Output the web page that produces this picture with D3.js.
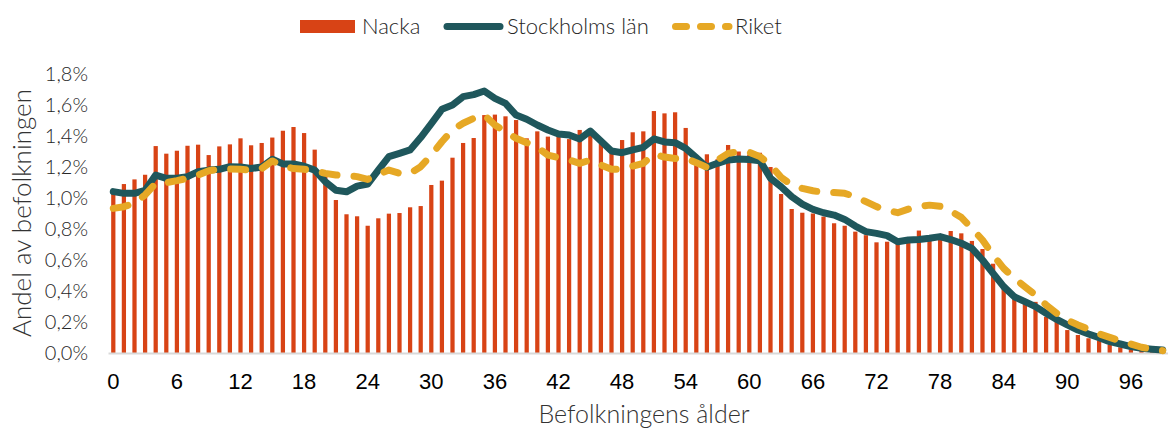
<!DOCTYPE html>
<html>
<head>
<meta charset="utf-8">
<script src="https://cdn.jsdelivr.net/npm/d3@7"></script>
<style>
  html, body { margin: 0; padding: 0; background: #fff; }
  svg { display: block; }
  .thin { font-family: Lato, "Open Sans", sans-serif; font-weight: 300; }
</style>
</head>
<body>
<svg id="chart" width="1168" height="430"></svg>
<script>
const ages = d3.range(0, 100);
const xTickLabels = [0, 6, 12, 18, 24, 30, 36, 42, 48, 54, 60, 66, 72, 78, 84, 90, 96];
const yTickValues = [0, 0.2, 0.4, 0.6, 0.8, 1.0, 1.2, 1.4, 1.6, 1.8];

const nacka = [
  1.04, 1.09, 1.12, 1.15, 1.335, 1.286, 1.305, 1.337, 1.344, 1.277,
  1.333, 1.346, 1.385, 1.34, 1.355, 1.39, 1.434, 1.458, 1.419, 1.312,
  1.15, 0.987, 0.895, 0.882, 0.821, 0.869, 0.899, 0.903, 0.94, 0.948,
  1.084, 1.112, 1.26, 1.355, 1.387, 1.535, 1.538, 1.527, 1.503, 1.385,
  1.43, 1.396, 1.40, 1.38, 1.439, 1.445, 1.35, 1.30, 1.374, 1.424,
  1.43, 1.561, 1.546, 1.553, 1.452, 1.25, 1.282, 1.25, 1.342, 1.30,
  1.28, 1.292, 1.20, 1.026, 0.929, 0.905, 0.90, 0.88, 0.837, 0.821,
  0.783, 0.76, 0.714, 0.718, 0.71, 0.73, 0.79, 0.76, 0.76, 0.787,
  0.772, 0.723, 0.671, 0.576, 0.44, 0.37, 0.32, 0.33, 0.234, 0.202,
  0.148, 0.116, 0.095, 0.08, 0.052, 0.037, 0.024, 0.015, 0.01, 0.005
];
const stockholm = [
  1.041, 1.03, 1.03, 1.05, 1.148, 1.127, 1.127, 1.138, 1.17, 1.18,
  1.185, 1.202, 1.2, 1.19, 1.2, 1.25, 1.22, 1.22, 1.205, 1.18,
  1.105, 1.05, 1.04, 1.077, 1.09, 1.18, 1.267, 1.288, 1.31, 1.39,
  1.48, 1.572, 1.6, 1.654, 1.667, 1.69, 1.643, 1.61, 1.535, 1.508,
  1.471, 1.439, 1.413, 1.406, 1.381, 1.432, 1.368, 1.303, 1.292, 1.31,
  1.327, 1.381, 1.362, 1.357, 1.32, 1.26, 1.198, 1.224, 1.245, 1.252,
  1.248, 1.241, 1.127, 1.073, 1.009, 0.961, 0.927, 0.905, 0.89, 0.862,
  0.819, 0.783, 0.772, 0.757, 0.718, 0.729, 0.732, 0.74, 0.751, 0.732,
  0.708, 0.675, 0.6, 0.514, 0.428, 0.363, 0.331, 0.299, 0.256, 0.217,
  0.181, 0.148, 0.123, 0.099, 0.073, 0.058, 0.041, 0.03, 0.024, 0.019
];
const riket = [
  0.933, 0.944, 0.965, 1.02, 1.095, 1.099, 1.112, 1.127, 1.148, 1.176,
  1.185, 1.187, 1.185, 1.18, 1.19, 1.239, 1.206, 1.19, 1.185, 1.176,
  1.159, 1.148, 1.145, 1.138, 1.12, 1.153, 1.18, 1.159, 1.159, 1.202,
  1.277, 1.363, 1.439, 1.482, 1.514, 1.535, 1.471, 1.428, 1.385, 1.357,
  1.327, 1.277, 1.26, 1.245, 1.224, 1.245, 1.213, 1.185, 1.185, 1.206,
  1.224, 1.282, 1.264, 1.255, 1.256, 1.228, 1.198, 1.245, 1.288, 1.299,
  1.295, 1.267, 1.213, 1.133, 1.084, 1.062, 1.047, 1.036, 1.036, 1.03,
  1.009, 0.976, 0.944, 0.923, 0.905, 0.928, 0.946, 0.954, 0.946, 0.915,
  0.875, 0.804, 0.729, 0.632, 0.546, 0.482, 0.428, 0.374, 0.31, 0.256,
  0.213, 0.181, 0.153, 0.123, 0.101, 0.077, 0.058, 0.037, 0.024, 0.015
];
const seriesNames = ["Nacka", "Stockholms län", "Riket"];
const colors = { nacka: "#d84315", stockholm: "#1f575c", riket: "#e6a825" };

const svg = d3.select("#chart");
const margin = { left: 108, right: 0, top: 74, bottom: 77 };
const W = 1168, H = 430;

const x = d3.scaleBand()
  .domain(ages)
  .range([margin.left, W - margin.right])
  .paddingInner(0.6)
  .paddingOuter(0.3);
const y = d3.scaleLinear().domain([0, 1.8]).range([H - margin.bottom, margin.top]);
const cx = a => x(a) + x.bandwidth() / 2;

// Bars
svg.append("g").selectAll("rect")
  .data(ages)
  .join("rect")
  .attr("x", a => x(a))
  .attr("width", x.bandwidth())
  .attr("y", a => y(nacka[a]))
  .attr("height", a => y(0) - y(nacka[a]))
  .attr("fill", colors.nacka);

// X axis
const xAxis = svg.append("g")
  .attr("transform", `translate(0,${y(0)})`)
  .call(d3.axisBottom(x).tickValues(xTickLabels).tickSize(0).tickPadding(20));
xAxis.select(".domain").attr("stroke", "#d9d9d9").attr("stroke-width", 2);
xAxis.selectAll("text")
  .attr("font-family", "Liberation Sans, Arial, sans-serif")
  .attr("font-size", 22)
  .attr("fill", "#000");

// Y axis
const yAxis = svg.append("g")
  .attr("transform", `translate(${margin.left - 14},0)`)
  .call(d3.axisLeft(y).tickValues(yTickValues).tickSize(0).tickPadding(6)
    .tickFormat(d => d3.format(".1f")(d).replace(".", ",") + "%"));
yAxis.select(".domain").remove();
yAxis.selectAll("text")
  .attr("class", "thin")
  .attr("font-size", 20)
  .attr("fill", "#262626");

// Lines
const line = d3.line().x((d, i) => cx(ages[i])).y(d => y(d));
svg.append("path")
  .datum(stockholm)
  .attr("d", line)
  .attr("fill", "none")
  .attr("stroke", colors.stockholm)
  .attr("stroke-width", 7)
  .attr("stroke-linejoin", "round")
  .attr("stroke-linecap", "round");
svg.append("path")
  .datum(riket)
  .attr("d", line)
  .attr("fill", "none")
  .attr("stroke", colors.riket)
  .attr("stroke-width", 7)
  .attr("stroke-linejoin", "round")
  .attr("stroke-linecap", "round")
  .attr("stroke-dasharray", "15,17");

// Axis titles
svg.append("text")
  .attr("class", "thin")
  .attr("x", 644).attr("y", 423)
  .attr("text-anchor", "middle")
  .attr("font-size", 25)
  .attr("fill", "#333")
  .text("Befolkningens ålder");
svg.append("text")
  .attr("class", "thin")
  .attr("transform", `translate(31,${213}) rotate(-90)`)
  .attr("text-anchor", "middle")
  .attr("font-size", 26)
  .attr("fill", "#333")
  .text("Andel av befolkningen");

// Legend
const lg = svg.append("g");
lg.append("rect").attr("x", 300).attr("y", 20).attr("width", 55).attr("height", 13).attr("fill", colors.nacka);
lg.append("text").attr("class", "thin").attr("x", 362).attr("y", 34).attr("font-size", 22).attr("fill", "#262626").text(seriesNames[0]);
lg.append("line").attr("x1", 447).attr("x2", 500).attr("y1", 26.5).attr("y2", 26.5)
  .attr("stroke", colors.stockholm).attr("stroke-width", 7).attr("stroke-linecap", "round");
lg.append("text").attr("class", "thin").attr("x", 507).attr("y", 34).attr("font-size", 22).attr("fill", "#262626").text(seriesNames[1]);
lg.append("line").attr("x1", 675.5).attr("x2", 729).attr("y1", 26.5).attr("y2", 26.5)
  .attr("stroke", colors.riket).attr("stroke-width", 7).attr("stroke-linecap", "round")
  .attr("stroke-dasharray", "11,14");
lg.append("text").attr("class", "thin").attr("x", 735).attr("y", 34).attr("font-size", 22).attr("fill", "#262626").text(seriesNames[2]);
</script>
</body>
</html>
